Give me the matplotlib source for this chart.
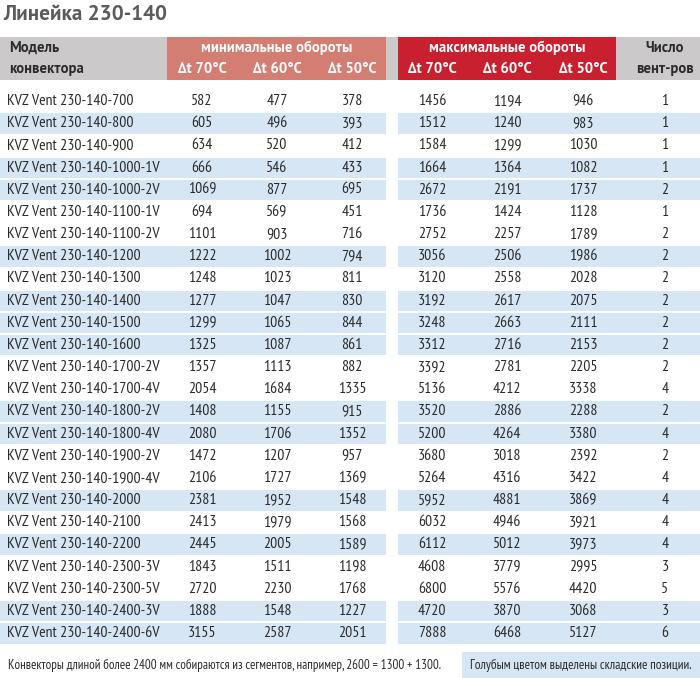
import matplotlib
matplotlib.use('Agg')
import matplotlib.pyplot as plt
from matplotlib import font_manager
from matplotlib.patches import Rectangle

title = 'Линейка 230-140'
models = ['KVZ Vent 230-140-700', 'KVZ Vent 230-140-800', 'KVZ Vent 230-140-900',
          'KVZ Vent 230-140-1000-1V', 'KVZ Vent 230-140-1000-2V', 'KVZ Vent 230-140-1100-1V',
          'KVZ Vent 230-140-1100-2V', 'KVZ Vent 230-140-1200', 'KVZ Vent 230-140-1300',
          'KVZ Vent 230-140-1400', 'KVZ Vent 230-140-1500', 'KVZ Vent 230-140-1600',
          'KVZ Vent 230-140-1700-2V', 'KVZ Vent 230-140-1700-4V', 'KVZ Vent 230-140-1800-2V',
          'KVZ Vent 230-140-1800-4V', 'KVZ Vent 230-140-1900-2V', 'KVZ Vent 230-140-1900-4V',
          'KVZ Vent 230-140-2000', 'KVZ Vent 230-140-2100', 'KVZ Vent 230-140-2200',
          'KVZ Vent 230-140-2300-3V', 'KVZ Vent 230-140-2300-5V', 'KVZ Vent 230-140-2400-3V',
          'KVZ Vent 230-140-2400-6V']
min_70 = [582, 605, 634, 666, 1069, 694, 1101, 1222, 1248, 1277, 1299, 1325, 1357, 2054,
          1408, 2080, 1472, 2106, 2381, 2413, 2445, 1843, 2720, 1888, 3155]
min_60 = [477, 496, 520, 546, 877, 569, 903, 1002, 1023, 1047, 1065, 1087, 1113, 1684,
          1155, 1706, 1207, 1727, 1952, 1979, 2005, 1511, 2230, 1548, 2587]
min_50 = [378, 393, 412, 433, 695, 451, 716, 794, 811, 830, 844, 861, 882, 1335,
          915, 1352, 957, 1369, 1548, 1568, 1589, 1198, 1768, 1227, 2051]
max_70 = [1456, 1512, 1584, 1664, 2672, 1736, 2752, 3056, 3120, 3192, 3248, 3312, 3392, 5136,
          3520, 5200, 3680, 5264, 5952, 6032, 6112, 4608, 6800, 4720, 7888]
max_60 = [1194, 1240, 1299, 1364, 2191, 1424, 2257, 2506, 2558, 2617, 2663, 2716, 2781, 4212,
          2886, 4264, 3018, 4316, 4881, 4946, 5012, 3779, 5576, 3870, 6468]
max_50 = [946, 983, 1030, 1082, 1737, 1128, 1789, 1986, 2028, 2075, 2111, 2153, 2205, 3338,
          2288, 3380, 2392, 3422, 3869, 3921, 3973, 2995, 4420, 3068, 5127]
fans = [1, 1, 1, 1, 2, 1, 2, 2, 2, 2, 2, 2, 2, 4, 2, 4, 2, 4, 4, 4, 4, 3, 5, 3, 6]
in_stock = [0, 1, 0, 1, 1, 0, 0, 1, 0, 1, 1, 1, 0, 0, 1, 1, 0, 0, 1, 0, 1, 0, 0, 1, 1]

col_head_model = ['Модель', 'конвектора']
head_min = 'минимальные обороты'
head_max = 'максимальные обороты'
dt_labels = ['Δt 70°C', 'Δt 60°C', 'Δt 50°C']
head_fans = ['Число', 'вент-ров']
note_left = 'Конвекторы длиной более 2400 мм собираются из сегментов, например, 2600 = 1300 + 1300.'
note_right = 'Голубым цветом выделены складские позиции.'

installed = set(f.name for f in font_manager.fontManager.ttflist)


def pick(cands):
    for c in cands:
        if c in installed:
            return [c, 'DejaVu Sans']
    return ['Lato', 'DejaVu Sans']


NARROW = pick(['PT Sans Narrow', 'Roboto Condensed', 'Fira Sans Condensed', 'Open Sans Condensed',
               'Ubuntu Condensed', 'Encode Sans Condensed', 'Lato'])
HEAD = pick(['PT Sans', 'Fira Sans', 'Lato'])

GRAY = '#cbc9c9'
PINK = '#d47d73'
RED = '#c8202f'
BLUE = '#d6e6f4'
TXT = '#2b2b2b'

fig = plt.figure(figsize=(7.0, 6.78), dpi=100)
ax = fig.add_axes([0, 0, 1, 1])
ax.set_xlim(0, 700)
ax.set_ylim(678, 0)
ax.axis('off')

ax.text(3, 15, title, fontsize=15.2, fontweight='bold', color='#5b5b5b', va='center', ha='left',
        family=HEAD)

# header
y0, y1 = 37, 80
ax.add_patch(Rectangle((0, y0), 700, y1 - y0, color=GRAY, lw=0))
ax.add_patch(Rectangle((167, y0), 219, y1 - y0, color=PINK, lw=0))
ax.add_patch(Rectangle((398, y0), 218, y1 - y0, color=RED, lw=0))
hk = dict(fontsize=10.5, fontweight='bold', va='center', family=HEAD)
ax.text(9, 48, col_head_model[0], color=TXT, **hk)
ax.text(9, 69, col_head_model[1], color=TXT, **hk)
ax.text(277, 48, head_min, color='white', ha='center', **hk)
ax.text(507, 48, head_max, color='white', ha='center', **hk)
min_x = [202, 277, 352]
max_x = [432, 507, 583]
fan_x = 665
for i, lab in enumerate(dt_labels):
    ax.text(min_x[i], 69, lab, color='white', ha='center', **hk)
    ax.text(max_x[i], 69, lab, color='white', ha='center', **hk)
ax.text(fan_x, 48, head_fans[0], color=TXT, ha='center', **hk)
ax.text(fan_x, 69, head_fans[1], color=TXT, ha='center', **hk)

# rows
top = 101
step = 22.17
rk = dict(fontsize=11.3, color=TXT, va='center', family=NARROW)
for i, name in enumerate(models):
    yc = top + i * step
    if in_stock[i]:
        ax.add_patch(Rectangle((0, yc - 10), 386, 20.5, color=BLUE, lw=0))
        ax.add_patch(Rectangle((398, yc - 10), 302, 20.5, color=BLUE, lw=0))
    ax.text(7, yc, name, ha='left', **rk)
    for x, v in zip(min_x, (min_70[i], min_60[i], min_50[i])):
        ax.text(x, yc, str(v), ha='center', **rk)
    for x, v in zip(max_x, (max_70[i], max_60[i], max_50[i])):
        ax.text(x, yc, str(v), ha='center', **rk)
    ax.text(fan_x, yc, str(fans[i]), ha='center', **rk)

# notes
ax.text(8, 665, note_left, fontsize=9.4, color=TXT, va='center', ha='left', family=NARROW)
ax.add_patch(Rectangle((462, 652), 238, 26, color=BLUE, lw=0))
ax.text(581, 665, note_right, fontsize=9.5, color=TXT, va='center', ha='center', family=NARROW)

fig.savefig('out.png', dpi=100)
